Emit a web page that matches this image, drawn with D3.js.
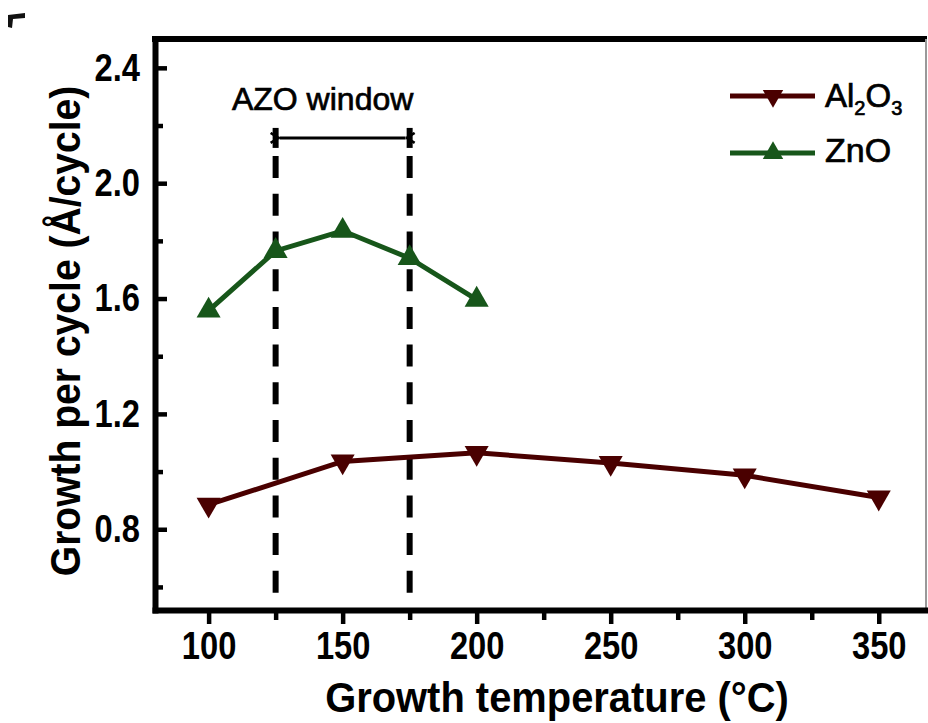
<!DOCTYPE html>
<html>
<head>
<meta charset="utf-8">
<script src="https://cdn.jsdelivr.net/npm/d3@7"></script>
<style>
  body { margin: 0; background: #fff; }
  svg { display: block; }
  text { font-family: "Liberation Sans", Arial, sans-serif; fill: #000; }
</style>
</head>
<body>
<div id="chart"></div>
<script>
// data
const al2o3Temps = [100, 150, 200, 250, 300, 350];
const al2o3Gpc = [0.885, 1.035, 1.065, 1.03, 0.987, 0.91];
const znoTemps = [100, 125, 150, 175, 200];
const znoGpc = [1.558, 1.765, 1.835, 1.74, 1.596];

const xTicks = [100, 150, 200, 250, 300, 350];
const xMinor = [125, 175, 225, 275, 325];
const yTicks = [0.8, 1.2, 1.6, 2.0, 2.4];
const yMinor = [0.6, 1.0, 1.4, 1.8, 2.2];

const azoWindow = [125, 175];   // growth temperature window
const azoLabel = "AZO window";

let margin = {top: 39, right: 1, bottom: 113, left: 155},
    W = 928, H = 723,
    width = W - margin.left - margin.right,
    height = H - margin.top - margin.bottom;

const colAl = "#4a0000", colZn = "#17561a";

let svgRoot = d3.select("#chart").append("svg")
    .attr("width", W).attr("height", H);

// arrow heads for the window bracket
svgRoot.append("defs").append("marker")
    .attr("id", "arr")
    .attr("viewBox", "0 -6 12 12")
    .attr("refX", 0).attr("refY", 0)
    .attr("markerWidth", 12).attr("markerHeight", 12)
    .attr("markerUnits", "userSpaceOnUse")
    .attr("orient", "auto-start-reverse")
    .append("path")
    .attr("d", "M9,-5L1,0L9,5")
    .attr("fill", "none").attr("stroke", "#000").attr("stroke-width", 2.5);

// stray corner mark from the cropped panel
svgRoot.append("path")
    .attr("d", "M8,15 L25,13 L25,18 L13,19 L12,28 L8,27 Z")
    .attr("fill", "#111");

let svg = svgRoot.append("g")
    .attr("transform", "translate(" + margin.left + "," + margin.top + ")");

let x = d3.scaleLinear().domain([80, 368]).range([0, width]);
let y = d3.scaleLinear().domain([0.52, 2.5]).range([height, 0]);

// frame: thick top, thin grey right
svg.append("line")
    .attr("x1", -3).attr("x2", width).attr("y1", 0).attr("y2", 0)
    .attr("stroke", "#000").attr("stroke-width", 6);
svg.append("line")
    .attr("x1", width - 1).attr("x2", width - 1).attr("y1", 0).attr("y2", height)
    .attr("stroke", "#999").attr("stroke-width", 2);

// window dashed lines + bracket
const dashTop = 2.094, bracketY = 2.157, labelY = 2.254;
svg.selectAll(".win").data(azoWindow).enter().append("line")
    .attr("class", "win")
    .attr("x1", d => x(d)).attr("x2", d => x(d))
    .attr("y1", y(dashTop)).attr("y2", height)
    .attr("stroke", "#000").attr("stroke-width", 6)
    .attr("stroke-dasharray", "22,15.7");
svg.selectAll(".winbar").data(azoWindow).enter().append("line")
    .attr("class", "winbar")
    .attr("x1", d => x(d)).attr("x2", d => x(d))
    .attr("y1", y(bracketY) - 10).attr("y2", y(bracketY) + 10)
    .attr("stroke", "#000").attr("stroke-width", 6);
svg.append("line")
    .attr("x1", x(azoWindow[0]) + 4).attr("x2", x(azoWindow[1]) - 4)
    .attr("y1", y(bracketY)).attr("y2", y(bracketY))
    .attr("stroke", "#000").attr("stroke-width", 3)
    .attr("marker-start", "url(#arr)").attr("marker-end", "url(#arr)");
svg.append("text")
    .attr("x", (x(azoWindow[0]) + x(azoWindow[1])) / 2 - 20)
    .attr("y", y(labelY))
    .attr("text-anchor", "middle")
    .style("font-size", "32px")
    .style("stroke", "#000").style("stroke-width", 0.7)
    .text(azoLabel);

// axes
let xAxis = svg.append("g")
    .attr("transform", "translate(0," + height + ")")
    .call(d3.axisBottom(x).tickValues(xTicks).tickSize(14).tickSizeOuter(0).tickPadding(8));
svg.append("g")
    .attr("transform", "translate(0," + height + ")")
    .call(d3.axisBottom(x).tickValues(xMinor).tickSize(10).tickFormat(""))
    .call(g => g.select(".domain").remove());

let yAxis = svg.append("g")
    .call(d3.axisLeft(y).tickValues(yTicks).tickSize(-12).tickSizeOuter(0).tickPadding(15)
        .tickFormat(d3.format(".1f")));
svg.append("g")
    .call(d3.axisLeft(y).tickValues(yMinor).tickSize(-8).tickFormat(""))
    .call(g => g.select(".domain").remove());

svg.selectAll(".domain").attr("stroke-width", 6).attr("stroke-linecap", "square");
svg.selectAll(".tick line").attr("stroke-width", 4.5);
svg.selectAll(".tick text")
    .attr("font-family", null)
    .style("font-size", "38px").style("font-weight", "bold")
    .each(function () {
        // condensed digits, as in the original
        let w = this.getComputedTextLength();
        if (w > 0) d3.select(this).attr("textLength", w * 0.86).attr("lengthAdjust", "spacingAndGlyphs");
    });

// series
let line = d3.line().x(d => x(d[0])).y(d => y(d[1]));
const al2o3 = al2o3Temps.map((t, i) => [t, al2o3Gpc[i]]);
const zno = znoTemps.map((t, i) => [t, znoGpc[i]]);

svg.append("path").datum(al2o3)
    .attr("d", line).attr("fill", "none")
    .attr("stroke", colAl).attr("stroke-width", 5);
svg.append("path").datum(zno)
    .attr("d", line).attr("fill", "none")
    .attr("stroke", colZn).attr("stroke-width", 5);

let tri = d3.symbol(d3.symbolTriangle, 250);
svg.selectAll(".mAl").data(al2o3).enter().append("path")
    .attr("class", "mAl")
    .attr("d", tri)
    .attr("transform", d => "translate(" + x(d[0]) + "," + y(d[1]) + ") rotate(180)")
    .attr("fill", colAl);
svg.selectAll(".mZn").data(zno).enter().append("path")
    .attr("class", "mZn")
    .attr("d", tri)
    .attr("transform", d => "translate(" + x(d[0]) + "," + y(d[1]) + ")")
    .attr("fill", colZn);

// legend
let legend = svgRoot.append("g");
const legRows = [{c: colAl, rot: 180, y: 96}, {c: colZn, rot: 0, y: 153}];
legRows.forEach(r => {
    legend.append("line")
        .attr("x1", 730).attr("x2", 815).attr("y1", r.y).attr("y2", r.y)
        .attr("stroke", r.c).attr("stroke-width", 5);
    legend.append("path")
        .attr("d", d3.symbol(d3.symbolTriangle, 180))
        .attr("transform", "translate(773," + r.y + ") rotate(" + r.rot + ")")
        .attr("fill", r.c);
});
let t1 = legend.append("text").attr("x", 825).attr("y", 107)
    .style("font-size", "33px").style("stroke", "#000").style("stroke-width", 0.7);
t1.append("tspan").text("Al");
t1.append("tspan").attr("dy", 8).style("font-size", "20px").text("2");
t1.append("tspan").attr("dy", -8).text("O");
t1.append("tspan").attr("dy", 8).style("font-size", "20px").text("3");
legend.append("text").attr("x", 825).attr("y", 162)
    .style("font-size", "34px").style("stroke", "#000").style("stroke-width", 0.7)
    .text("ZnO");

// axis titles
svgRoot.append("text")
    .attr("transform", "translate(557,712) scale(0.95,1)")
    .attr("text-anchor", "middle")
    .style("font-size", "42px").style("font-weight", "bold")
    .text("Growth temperature (°C)");
svgRoot.append("text")
    .attr("transform", "translate(80,331) rotate(-90) scale(0.93,1)")
    .attr("text-anchor", "middle")
    .style("font-size", "42px").style("font-weight", "bold")
    .text("Growth per cycle (Å/cycle)");
</script>
</body>
</html>
